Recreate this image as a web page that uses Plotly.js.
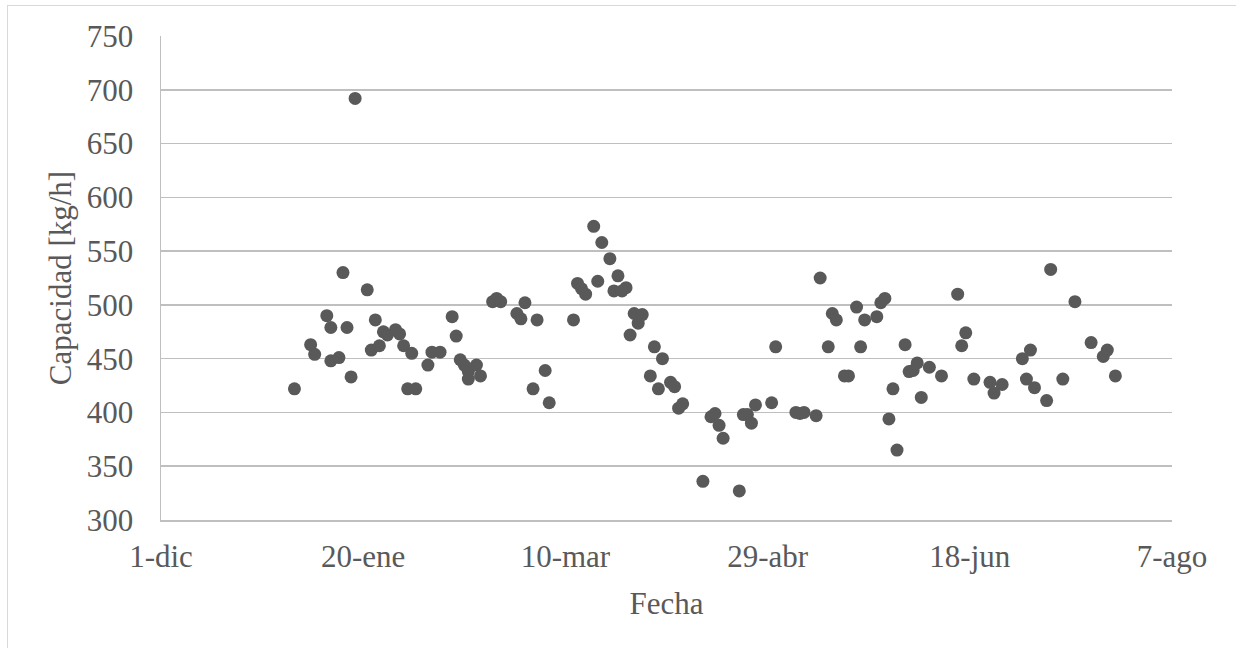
<!DOCTYPE html>
<html>
<head>
<meta charset="utf-8">
<script src="https://cdn.plot.ly/plotly-3.0.1.min.js"></script>
<style>
  html, body { margin: 0; padding: 0; background: #ffffff; }
  #wrap { position: relative; width: 1236px; height: 648px; overflow: hidden; }
  #frame { position: absolute; left: 7px; top: 5px; width: 1240px; height: 660px; border: 1px solid #d9d9d9; box-sizing: border-box; pointer-events: none; }
  #chart { position: absolute; left: 0; top: 0; width: 1236px; height: 648px; }
</style>
</head>
<body>
<div id="wrap">
  <div id="chart"></div>
  <div id="frame"></div>
</div>
<script>
// Fecha (date) of each measurement
const fechas = [
  '2020-01-03','2020-01-07','2020-01-08','2020-01-11','2020-01-12','2020-01-12','2020-01-14','2020-01-15',
  '2020-01-16','2020-01-17','2020-01-18','2020-01-21','2020-01-22','2020-01-23','2020-01-24','2020-01-25',
  '2020-01-26','2020-01-28','2020-01-29','2020-01-30','2020-01-31','2020-02-01','2020-02-02','2020-02-05',
  '2020-02-06','2020-02-08','2020-02-11','2020-02-12','2020-02-13','2020-02-14','2020-02-15','2020-02-15',
  '2020-02-17','2020-02-18','2020-02-21','2020-02-22','2020-02-23','2020-02-27','2020-02-28','2020-02-29',
  '2020-03-02','2020-03-03','2020-03-05','2020-03-06','2020-03-12','2020-03-13','2020-03-14','2020-03-15',
  '2020-03-17','2020-03-18','2020-03-19','2020-03-21','2020-03-22','2020-03-23','2020-03-24','2020-03-25',
  '2020-03-26','2020-03-27','2020-03-28','2020-03-29','2020-03-31','2020-04-01','2020-04-02','2020-04-03',
  '2020-04-05','2020-04-06','2020-04-07','2020-04-08','2020-04-13','2020-04-15','2020-04-16','2020-04-17',
  '2020-04-18','2020-04-22','2020-04-23','2020-04-24','2020-04-25','2020-04-26','2020-04-30','2020-05-01',
  '2020-05-06','2020-05-07','2020-05-08','2020-05-11','2020-05-12','2020-05-14','2020-05-15','2020-05-16',
  '2020-05-18','2020-05-19','2020-05-21','2020-05-22','2020-05-23','2020-05-26','2020-05-27','2020-05-28',
  '2020-05-29','2020-05-30','2020-05-31','2020-06-02','2020-06-03','2020-06-04','2020-06-05','2020-06-06',
  '2020-06-08','2020-06-11','2020-06-15','2020-06-16','2020-06-17','2020-06-19','2020-06-23','2020-06-24',
  '2020-06-26','2020-07-01','2020-07-02','2020-07-03','2020-07-04','2020-07-07','2020-07-08','2020-07-11',
  '2020-07-14','2020-07-18','2020-07-21','2020-07-22','2020-07-24'
];

// Capacidad [kg/h]
const capacidad = [
  422,463,454,490,479,448,451,530,
  479,433,692,514,458,486,462,475,
  472,477,473,462,422,455,422,444,
  456,456,489,471,449,444,438,431,
  444,434,503,506,503,492,487,502,
  422,486,439,409,486,520,515,510,
  573,522,558,543,513,527,513,516,
  472,492,483,491,434,461,422,450,
  428,424,404,408,336,396,399,388,
  376,327,398,398,390,407,409,461,
  400,399,400,397,525,461,492,486,
  434,434,498,461,486,489,502,506,
  394,422,365,463,438,439,446,414,
  442,434,510,462,474,431,428,418,
  426,450,431,458,423,411,533,431,
  503,465,452,458,434
];

// Axis ticks
const xTickVals = ['2019-12-01','2020-01-20','2020-03-10','2020-04-29','2020-06-18','2020-08-07'];
const xTickText = ['1-dic','20-ene','10-mar','29-abr','18-jun','7-ago'];
const yTickVals = [300,350,400,450,500,550,600,650,700,750];

const txt = '#595959';
const grid = '#bfbfbf';
const fnt = 'Liberation Serif';
const fs = 31;

const trace = {
  type: 'scatter',
  mode: 'markers',
  x: fechas,
  y: capacidad,
  marker: { color: '#595959', size: 13, line: { width: 0 } },
  hoverinfo: 'x+y'
};

const layout = {
  width: 1236,
  height: 648,
  margin: { l: 161, r: 64, t: 36, b: 128, pad: 0 },
  paper_bgcolor: 'rgba(0,0,0,0)',
  plot_bgcolor: 'rgba(0,0,0,0)',
  showlegend: false,
  font: { family: fnt, size: fs, color: txt },
  xaxis: {
    type: 'date',
    range: ['2019-12-01', '2020-08-07'],
    tickmode: 'array',
    tickvals: xTickVals,
    ticktext: xTickText,
    showgrid: false,
    zeroline: false,
    showline: true,
    linecolor: grid,
    linewidth: 1.5,
    ticks: '',
    ticklabelstandoff: 8,
    tickfont: { family: fnt, size: fs, color: txt },
    title: { text: 'Fecha', font: { family: fnt, size: fs, color: txt }, standoff: 19 },
    automargin: false
  },
  yaxis: {
    range: [300, 750],
    tickmode: 'array',
    tickvals: yTickVals,
    showgrid: true,
    gridcolor: grid,
    gridwidth: 1.5,
    zeroline: false,
    showline: true,
    linecolor: grid,
    linewidth: 1.5,
    ticks: '',
    ticklabelstandoff: 20,
    tickfont: { family: fnt, size: fs, color: txt },
    title: { text: 'Capacidad [kg/h]', font: { family: fnt, size: fs, color: txt }, standoff: 6 },
    automargin: false
  }
};

Plotly.newPlot('chart', [trace], layout, { staticPlot: true, displayModeBar: false });
</script>
</body>
</html>
